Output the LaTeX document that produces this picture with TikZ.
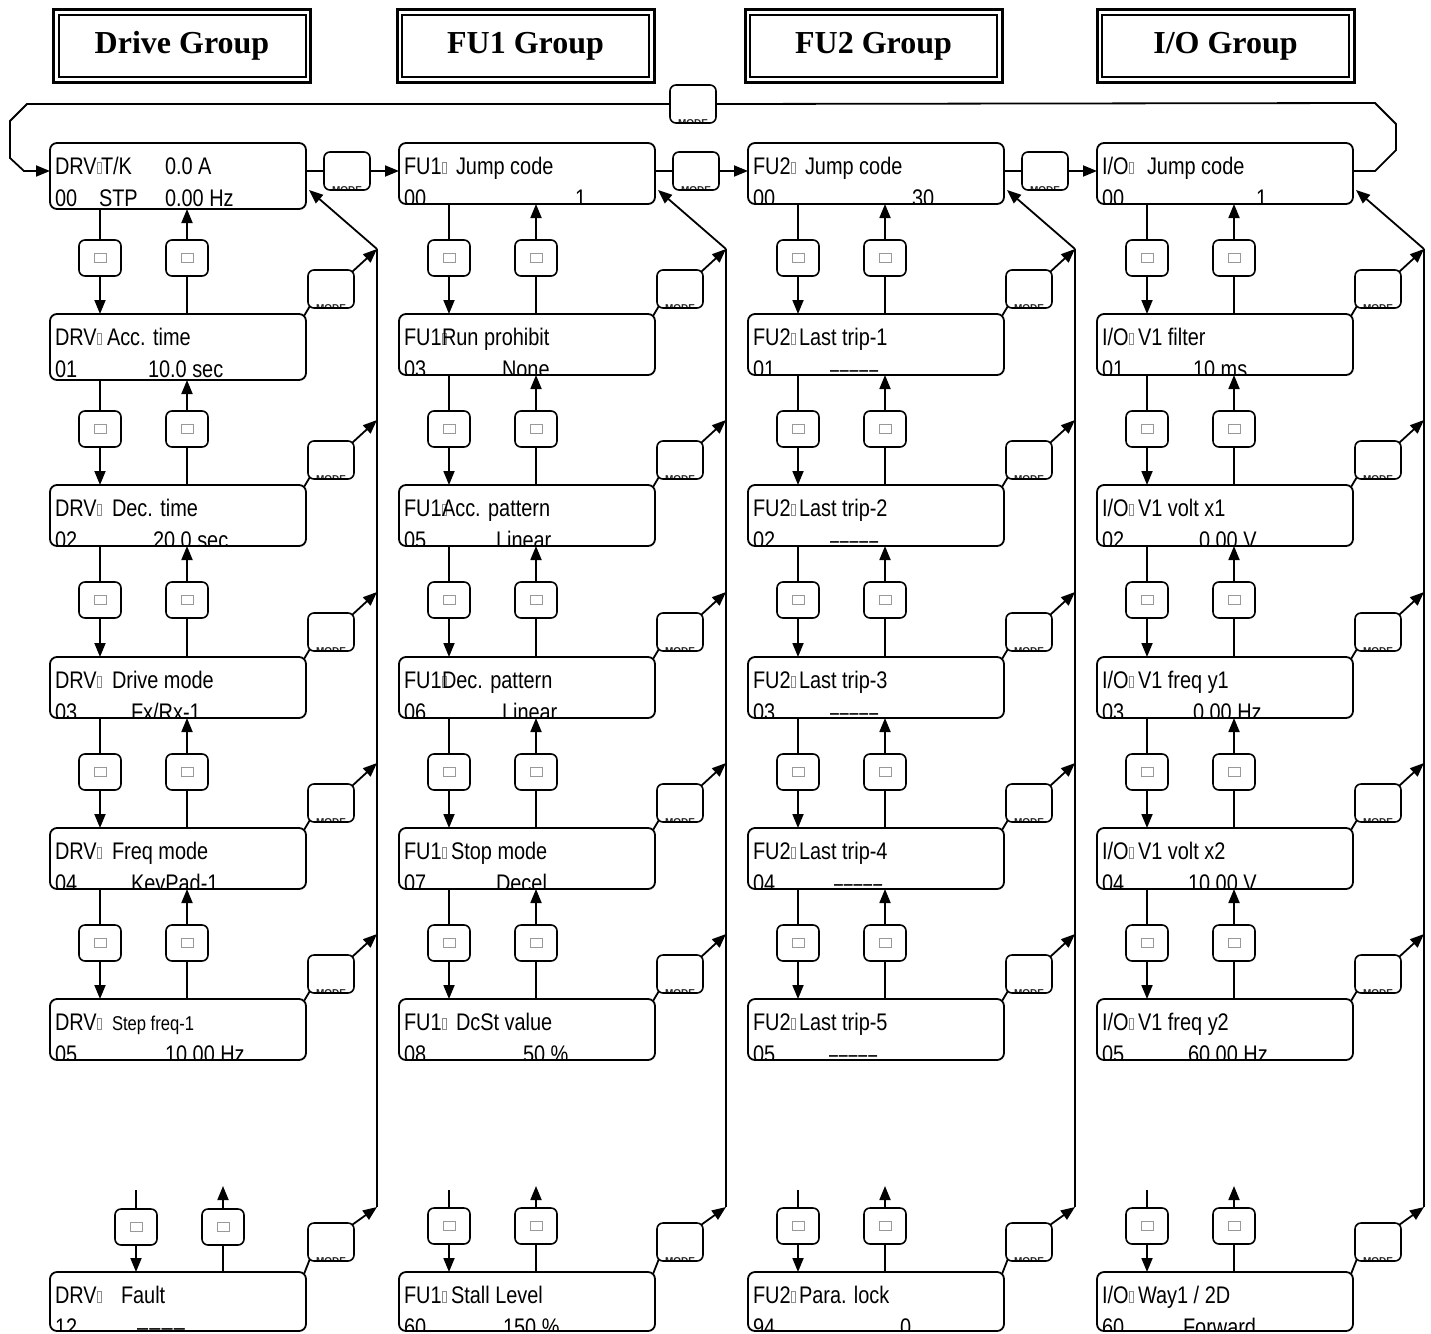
\documentclass[tikz,border=0pt]{standalone}
\usepackage{fontspec}
\usepackage{graphicx}
\usetikzlibrary{calc,arrows.meta}
\newfontfamily\lcd[FakeStretch=0.83]{Liberation Sans}
\newfontfamily\hdrfont{Liberation Serif}
\newfontfamily\keyfont{Liberation Sans}
% small hollow glyph box shown on the display
\newcommand\nb{\kern0.8pt\textcolor{black!45}{\vrule width0.6pt height12pt depth0pt\vbox to12pt{\hrule height0.6pt width2.6pt\vfill\hrule height0.6pt width2.6pt}\vrule width0.6pt height12pt depth0pt}}
% display box: name, left, top, height, contents (text clipped to the box)
\newcommand\lcdbox[5]{%
  \def\curL{#2}\def\curT{#3}%
  \begin{scope}
    \clip[rounded corners=7pt] (#2,#3) rectangle ++(256,#4);
    #5
  \end{scope}
  \node[lcdframe, minimum height=#4pt, anchor=north west] (#1) at (#2,#3) {};
}
\newcommand\ta[2]{\node[txt] at (\curL+#1,\curT+31) {#2};}
\newcommand\tas[2]{\node[txt,font=\lcd\fontsize{20}{20}\selectfont] at (\curL+#1,\curT+31) {#2};}
\newcommand\tb[2]{\node[txt] at (\curL+#1,\curT+63) {#2};}
\newcommand\dashesA{–\kern1.2pt–\kern1.2pt–\kern1.2pt–}
\newcommand\dashesB{\scalebox{0.8}[1]{–\kern1.2pt–\kern1.2pt–\kern1.2pt–\kern1.2pt–}}
\begin{document}
\begin{tikzpicture}[x=1pt,y=-1pt,
  line width=1.8pt,
  arr/.style={-{Triangle[length=14pt,width=11pt]}},
  txt/.style={anchor=base west, inner sep=0, outer sep=0, font=\lcd\fontsize{24}{24}\selectfont},
  lcdframe/.style={draw, rounded corners=7pt, line width=1.8pt, minimum width=256pt, inner sep=0, outer sep=0},
  kbox/.style={draw, fill=white, rounded corners=6pt, line width=1.6pt, minimum width=42pt, minimum height=36pt, inner sep=0, outer sep=0,
    path picture={\draw[sharp corners, black!40, line width=0.6pt] ($(path picture bounding box.center)+(-6,-4.5)$) rectangle ++(12,9);}},
  mbox/.style={draw, fill=white, rounded corners=6pt, line width=1.6pt, minimum width=46pt, minimum height=38pt, inner sep=0, outer sep=0,
    path picture={\node[anchor=base, inner sep=0, text=black!85, font=\keyfont\bfseries\fontsize{10}{10}\selectfont] at ($(path picture bounding box.south)+(0,3)$) {MODE};}},
  hdr/.style={draw, line width=3pt, minimum width=257pt, minimum height=73pt, inner sep=0, outer sep=0, font=\hdrfont\bfseries\fontsize{32}{32}\selectfont}
]
\useasboundingbox (0,0) rectangle (1431,1333);

% group titles
\foreach \nm/\xc/\ttl in {hA/182/{Drive Group}, hB/525.5/{FU1 Group}, hC/873.5/{FU2 Group}, hD/1225.5/{I/O Group}}{
  \node[hdr] (\nm) at (\xc,46) {\ttl};
  \draw[line width=2pt] ($(\nm.north west)+(5,5)$) rectangle ($(\nm.south east)+(-5,-6)$);
}

% Drive group
\lcdbox{A0}{50}{143}{66}{\ta{5}{DRV\nb}\ta{51}{T/K}\ta{115}{0.0 A}\tb{5}{00}\tb{49}{STP}\tb{115}{0.00 Hz}}
\lcdbox{A1}{50}{314}{66}{\ta{5}{DRV\nb}\ta{57}{Acc. time}\tb{5}{01}\tb{98}{10.0 sec}}
\lcdbox{A2}{50}{485}{61}{\ta{5}{DRV\nb}\ta{62}{Dec. time}\tb{5}{02}\tb{103}{20.0 sec}}
\lcdbox{A3}{50}{657}{61}{\ta{5}{DRV\nb}\ta{62}{Drive mode}\tb{5}{03}\tb{81}{Fx/Rx-1}}
\lcdbox{A4}{50}{828}{61}{\ta{5}{DRV\nb}\ta{62}{Freq mode}\tb{5}{04}\tb{81}{KeyPad-1}}
\lcdbox{A5}{50}{999}{61}{\ta{5}{DRV\nb}\tas{62}{Step freq-1}\tb{5}{05}\tb{115}{10.00 Hz}}
\lcdbox{A6}{50}{1272}{59}{\ta{5}{DRV\nb}\ta{71}{Fault}\tb{5}{12}\tb{87}{\dashesA}}

% FU1 group
\lcdbox{B0}{399}{143}{61}{\ta{5}{FU1\nb}\ta{57}{Jump code}\tb{5}{00}\tb{176}{1}}
\lcdbox{B1}{399}{314}{61}{\ta{5}{FU1\nb}\ta{43}{Run prohibit}\tb{5}{03}\tb{103}{None}}
\lcdbox{B2}{399}{485}{61}{\ta{5}{FU1\nb}\ta{43}{Acc. pattern}\tb{5}{05}\tb{97}{Linear}}
\lcdbox{B3}{399}{657}{61}{\ta{5}{FU1\nb}\ta{43}{Dec. pattern}\tb{5}{06}\tb{103}{Linear}}
\lcdbox{B4}{399}{828}{61}{\ta{5}{FU1\nb}\ta{52}{Stop mode}\tb{5}{07}\tb{97}{Decel}}
\lcdbox{B5}{399}{999}{61}{\ta{5}{FU1\nb}\ta{57}{DcSt value}\tb{5}{08}\tb{124}{50 \%}}
\lcdbox{B6}{399}{1272}{59}{\ta{5}{FU1\nb}\ta{52}{Stall Level}\tb{5}{60}\tb{104}{150 \%}}

% FU2 group
\lcdbox{C0}{748}{143}{61}{\ta{5}{FU2\nb}\ta{57}{Jump code}\tb{5}{00}\tb{164}{30}}
\lcdbox{C1}{748}{314}{61}{\ta{5}{FU2\nb}\ta{51}{Last trip-1}\tb{5}{01}\tb{82}{\dashesB}}
\lcdbox{C2}{748}{485}{61}{\ta{5}{FU2\nb}\ta{51}{Last trip-2}\tb{5}{02}\tb{82}{\dashesB}}
\lcdbox{C3}{748}{657}{61}{\ta{5}{FU2\nb}\ta{51}{Last trip-3}\tb{5}{03}\tb{82}{\dashesB}}
\lcdbox{C4}{748}{828}{61}{\ta{5}{FU2\nb}\ta{51}{Last trip-4}\tb{5}{04}\tb{86}{\dashesB}}
\lcdbox{C5}{748}{999}{61}{\ta{5}{FU2\nb}\ta{51}{Last trip-5}\tb{5}{05}\tb{81}{\dashesB}}
\lcdbox{C6}{748}{1272}{59}{\ta{5}{FU2\nb}\ta{51}{Para. lock}\tb{5}{94}\tb{152}{0}}

% I/O group
\lcdbox{D0}{1097}{143}{61}{\ta{5}{I/O\nb}\ta{50}{Jump code}\tb{5}{00}\tb{159}{1}}
\lcdbox{D1}{1097}{314}{61}{\ta{5}{I/O\nb}\ta{41}{V1 filter}\tb{5}{01}\tb{96}{10 ms}}
\lcdbox{D2}{1097}{485}{61}{\ta{5}{I/O\nb}\ta{41}{V1 volt x1}\tb{5}{02}\tb{102}{0.00 V}}
\lcdbox{D3}{1097}{657}{61}{\ta{5}{I/O\nb}\ta{41}{V1 freq y1}\tb{5}{03}\tb{96}{0.00 Hz}}
\lcdbox{D4}{1097}{828}{61}{\ta{5}{I/O\nb}\ta{41}{V1 volt x2}\tb{5}{04}\tb{91}{10.00 V}}
\lcdbox{D5}{1097}{999}{61}{\ta{5}{I/O\nb}\ta{41}{V1 freq y2}\tb{5}{05}\tb{91}{60.00 Hz}}
\lcdbox{D6}{1097}{1272}{59}{\ta{5}{I/O\nb}\ta{41}{Way1 / 2D}\tb{5}{60}\tb{86}{Forward}}

% down / up keys between consecutive displays
\foreach \cc/\LL in {A/50,B/399,C/748,D/1097}{
  \foreach \rr/\TT in {0/143,1/314,2/485,3/657,4/828}{
    \pgfmathtruncatemacro\rn{\rr+1}
    \node[kbox] (k\cc\rr d) at (\LL+50,\TT+115) {};
    \node[kbox] (k\cc\rr u) at (\LL+137,\TT+115) {};
    \draw (k\cc\rr d.north) -- (k\cc\rr d.north |- \cc\rr.south);
    \draw[arr] (k\cc\rr d.south) -- (k\cc\rr d.south |- \cc\rn.north);
    \draw (k\cc\rr u.south) -- (k\cc\rr u.south |- \cc\rn.north);
    \draw[arr] (k\cc\rr u.north) -- (k\cc\rr u.north |- \cc\rr.south);
  }
}

% keys above the last display of each group
\foreach \cc/\xd/\xu/\yk in {A/136/223/1227,B/449/536/1226,C/798/885/1226,D/1147/1234/1226}{
  \node[kbox] (k\cc 6d) at (\xd,\yk) {};
  \node[kbox] (k\cc 6u) at (\xu,\yk) {};
  \coordinate (s\cc) at (\xd,1190);
  \coordinate (e\cc) at (\xu,1186);
  \draw (s\cc) -- (k\cc 6d.north);
  \draw[arr] (k\cc 6d.south) -- (k\cc 6d.south |- \cc6.north);
  \draw (k\cc 6u.south) -- (k\cc 6u.south |- \cc6.north);
  \draw[arr] (k\cc 6u.north) -- (e\cc);
}

% MODE keys returning each parameter to the first one of its group
\foreach \cc/\LL in {A/50,B/399,C/748,D/1097}{
  \foreach \rr/\TT/\dy in {1/314/25,2/485/25,3/657/25,4/828/25,5/999/25,6/1272/30}{
    \node[mbox] (m\cc\rr) at (\LL+281,\TT-\dy) {};
    \coordinate (v\cc\rr) at (\LL+327,\TT-65);
    \draw ($(\cc\rr.north east)+(-2,2)$) -- ($(m\cc\rr.south west)+(1.8,-1.8)$);
    \draw[arr] ($(m\cc\rr.north east)+(-1.8,1.8)$) -- (v\cc\rr);
  }
  \draw (v\cc1) -- (v\cc6);
  \draw[arr] (v\cc1) -- ($(\cc0.north east)+(3,47)$);
}

% MODE keys moving between groups
\node[mbox] (mAB) at (347,171) {};
\node[mbox] (mBC) at (696,171) {};
\node[mbox] (mCD) at (1045,171) {};
\node[mbox] (mTop) at (693,104) {};
\draw (A0.east |- mAB.west) -- (mAB.west);
\draw[arr] (mAB.east) -- (B0.west |- mAB.east);
\draw (B0.east |- mBC.west) -- (mBC.west);
\draw[arr] (mBC.east) -- (C0.west |- mBC.east);
\draw (C0.east |- mCD.west) -- (mCD.west);
\draw[arr] (mCD.east) -- (D0.west |- mCD.east);

% loop back from the last group to the first
\draw (D0.east |- mCD.east) -- ++(22,0) -- ++(21,-21) -- ++(0,-26) -- ++(-21,-21) -- (mTop.east);
\draw[arr] (mTop.west) -- ++(-643,0) -- ++(-17,17) -- ++(0,37) -- ++(14,13) -- (A0.west |- mAB.west);
\end{tikzpicture}
\end{document}
